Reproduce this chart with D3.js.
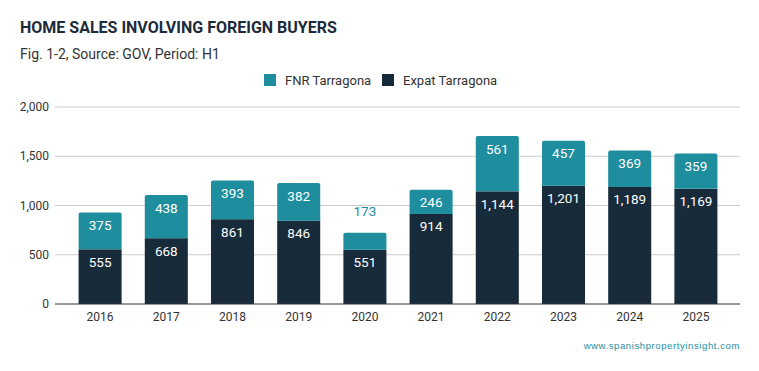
<!DOCTYPE html>
<html>
<head>
<meta charset="utf-8">
<script src="https://cdn.jsdelivr.net/npm/d3@7"></script>
<style>
  body { margin: 0; background: #fff; }
  svg { display: block; font-family: Roboto, "Liberation Sans", sans-serif; }
</style>
</head>
<body>
<script>
const years = ["2016", "2017", "2018", "2019", "2020", "2021", "2022", "2023", "2024", "2025"];
const expatValues = [555, 668, 861, 846, 551, 914, 1144, 1201, 1189, 1169];
const fnrValues = [375, 438, 393, 382, 173, 246, 561, 457, 369, 359];
const yTicks = [0, 500, 1000, 1500, 2000];
const seriesNames = ["FNR Tarragona", "Expat Tarragona"];

const width = 759, height = 371;
const teal = "#1e8e9f", navy = "#182b3b";

const svg = d3.select("body").append("svg")
    .attr("width", width)
    .attr("height", height);

// title + subtitle
svg.append("text")
    .attr("x", 20).attr("y", 33)
    .attr("font-size", 16).attr("font-weight", 700)
    .attr("fill", "#1c2b3a")
    .text("HOME SALES INVOLVING FOREIGN BUYERS");
svg.append("text")
    .attr("x", 20).attr("y", 59)
    .attr("font-size", 14)
    .attr("fill", "#333")
    .text("Fig. 1-2, Source: GOV, Period: H1");

// legend
const legend = svg.append("g");
const legendPos = [264, 382];
seriesNames.forEach((name, i) => {
    const g = legend.append("g").attr("transform", `translate(${legendPos[i]},74)`);
    g.append("rect").attr("width", 12).attr("height", 12).attr("fill", i === 0 ? teal : navy);
    g.append("text").attr("x", 21).attr("y", 10.5)
        .attr("font-size", 13).attr("fill", "#333").text(name);
});

const x = d3.scaleBand()
    .domain(years)
    .range([67, 729])
    .paddingInner(0.35)
    .paddingOuter(0.175);

const y = d3.scaleLinear()
    .domain([0, 2000])
    .range([304, 107]);

// gridlines
svg.append("g").selectAll("line")
    .data(yTicks.slice(1))
    .join("line")
    .attr("x1", 55).attr("x2", 740)
    .attr("y1", d => y(d)).attr("y2", d => y(d))
    .attr("stroke", "#ccc").attr("stroke-width", 1);

// y axis labels
svg.append("g").selectAll("text")
    .data(yTicks)
    .join("text")
    .attr("x", 49).attr("y", d => y(d) + 4)
    .attr("text-anchor", "end")
    .attr("font-size", 12).attr("fill", "#333")
    .text(d => d3.format(",")(d));

const rows = years.map((yr, i) => ({ year: yr, expat: expatValues[i], fnr: fnrValues[i] }));

// rounded-top path helper
function topRounded(x0, y0, w, h, r) {
    r = Math.min(r, h);
    return `M${x0},${y0 + h}V${y0 + r}Q${x0},${y0} ${x0 + r},${y0}H${x0 + w - r}Q${x0 + w},${y0} ${x0 + w},${y0 + r}V${y0 + h}Z`;
}

const bars = svg.append("g");
rows.forEach(d => {
    const bx = x(d.year), bw = x.bandwidth();
    const yExpTop = y(d.expat), yTop = y(d.expat + d.fnr);
    bars.append("rect")
        .attr("x", bx).attr("y", yExpTop)
        .attr("width", bw).attr("height", y(0) - yExpTop)
        .attr("fill", navy);
    bars.append("path")
        .attr("d", topRounded(bx, yTop, bw, yExpTop - yTop, 2))
        .attr("fill", teal);

    const cx = bx + bw / 2;
    bars.append("text")
        .attr("x", cx).attr("y", yExpTop + 17.5)
        .attr("text-anchor", "middle").attr("font-size", 13.5)
        .attr("fill", "#fff")
        .text(d3.format(",")(d.expat));
    const fits = (yExpTop - yTop) > 22;
    bars.append("text")
        .attr("x", cx).attr("y", fits ? yTop + 17.5 : yTop - 17)
        .attr("text-anchor", "middle").attr("font-size", 13.5)
        .attr("fill", fits ? "#fff" : teal)
        .text(d3.format(",")(d.fnr));
});

// baseline
svg.append("line")
    .attr("x1", 55).attr("x2", 740)
    .attr("y1", y(0)).attr("y2", y(0))
    .attr("stroke", "#333").attr("stroke-width", 1);

// x labels
svg.append("g").selectAll("text")
    .data(years)
    .join("text")
    .attr("x", d => x(d) + x.bandwidth() / 2)
    .attr("y", 321)
    .attr("text-anchor", "middle")
    .attr("font-size", 12).attr("fill", "#333")
    .text(d => d);

// watermark
svg.append("text")
    .attr("x", 740).attr("y", 349)
    .attr("text-anchor", "end")
    .attr("font-family", "'Liberation Sans', Arial, sans-serif")
    .attr("font-size", 9.5).attr("letter-spacing", 0.6)
    .attr("fill", teal)
    .text("www.spanishpropertyinsight.com");
</script>
</body>
</html>
